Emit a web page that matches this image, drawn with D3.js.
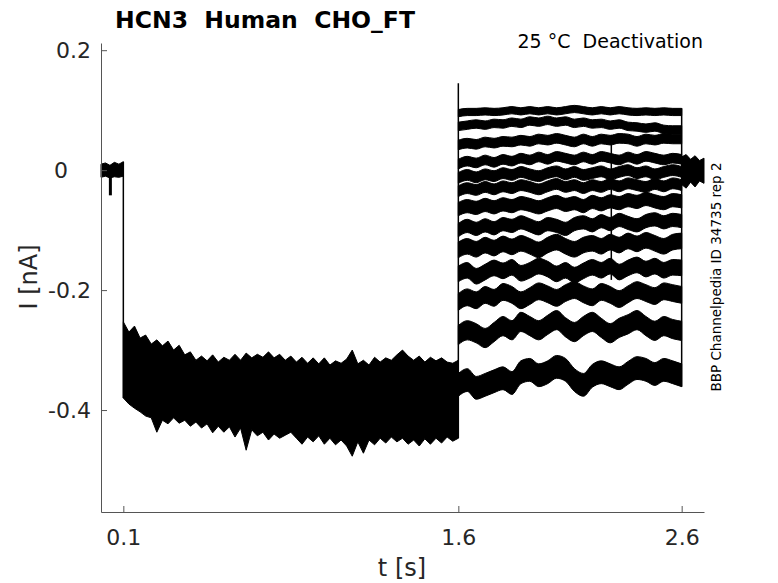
<!DOCTYPE html>
<html>
<head>
<meta charset="utf-8">
<script src="https://cdn.jsdelivr.net/npm/d3@7"></script>
<style>
  body { margin: 0; background: #fff; }
  svg { font-family: "DejaVu Sans", sans-serif; }
  text { white-space: pre; }
</style>
</head>
<body>
<div id="chart"></div>
<script>
// time axis ticks and current axis ticks
const xTicks = [0.1, 1.6, 2.6];
const yTicks = [-0.4, -0.2, 0, 0.2];

// pre-pulse holding (0 - 0.1 s)
const preT  = [0, 0.02, 0.04, 0.06, 0.08, 0.1];
const preHi = [0.010, 0.012, 0.008, 0.013, 0.010, 0.014];
const preLo = [-0.012, -0.010, -0.013, -0.011, -0.012, -0.010];
const dipT = 0.042, dipV = -0.042;

// activation step (0.1 - 1.6 s), all sweeps overlap -> envelope
const holdT = [0.100,0.125,0.150,0.175,0.200,0.225,0.250,0.275,0.300,0.325,0.350,0.375,0.400,0.425,0.450,0.475,
  0.500,0.525,0.550,0.575,0.600,0.625,0.650,0.675,0.700,0.725,0.750,0.775,0.800,0.825,0.850,0.875,0.900,0.925,
  0.950,0.975,1.000,1.025,1.050,1.075,1.100,1.125,1.150,1.175,1.200,1.225,1.250,1.275,1.300,1.325,1.350,1.375,
  1.400,1.425,1.450,1.475,1.500,1.525,1.550,1.575,1.600];
const holdHi = [-0.253,-0.270,-0.260,-0.280,-0.275,-0.290,-0.283,-0.293,-0.285,-0.300,-0.292,-0.308,-0.303,-0.317,
  -0.310,-0.318,-0.308,-0.320,-0.312,-0.317,-0.307,-0.317,-0.305,-0.313,-0.307,-0.312,-0.303,-0.313,-0.307,-0.317,
  -0.310,-0.320,-0.312,-0.322,-0.313,-0.323,-0.313,-0.325,-0.318,-0.322,-0.315,-0.300,-0.323,-0.317,-0.325,-0.312,
  -0.320,-0.313,-0.317,-0.308,-0.300,-0.310,-0.317,-0.310,-0.320,-0.312,-0.318,-0.313,-0.320,-0.322,-0.317];
const holdLo = [-0.380,-0.390,-0.397,-0.403,-0.410,-0.413,-0.437,-0.417,-0.423,-0.413,-0.422,-0.417,-0.427,-0.420,
  -0.430,-0.423,-0.438,-0.427,-0.437,-0.428,-0.445,-0.430,-0.467,-0.433,-0.443,-0.437,-0.450,-0.440,-0.447,-0.442,
  -0.437,-0.447,-0.457,-0.445,-0.453,-0.443,-0.457,-0.447,-0.458,-0.450,-0.460,-0.477,-0.453,-0.472,-0.450,-0.458,
  -0.447,-0.455,-0.445,-0.453,-0.447,-0.457,-0.450,-0.460,-0.448,-0.457,-0.447,-0.455,-0.445,-0.452,-0.447];

// deactivation steps (1.6 - 2.6 s), one sweep per test potential
const testT = [1.60,1.64,1.68,1.72,1.76,1.80,1.84,1.88,1.92,1.96,2.00,2.04,2.08,2.12,2.16,2.20,2.24,2.28,2.32,
  2.36,2.40,2.44,2.48,2.52,2.56,2.60];
const step1 = [0.095,0.097,0.097,0.098,0.097,0.098,0.100,0.098,0.100,0.098,0.100,0.098,0.100,0.102,0.100,0.098,0.100,0.098,0.100,0.098,0.097,0.098,0.097,0.098,0.097,0.097];
const step2 = [0.073,0.075,0.077,0.075,0.078,0.077,0.080,0.078,0.082,0.080,0.083,0.080,0.082,0.078,0.080,0.077,0.078,0.075,0.077,0.073,0.072,0.070,0.072,0.068,0.067,0.067];
const step3 = [0.042,0.045,0.043,0.047,0.045,0.048,0.047,0.050,0.048,0.052,0.050,0.053,0.050,0.047,0.052,0.048,0.052,0.050,0.053,0.052,0.048,0.052,0.050,0.053,0.052,0.052];
const step4 = [0.010,0.015,0.012,0.017,0.013,0.018,0.015,0.020,0.017,0.022,0.018,0.023,0.020,0.017,0.022,0.018,0.023,0.020,0.017,0.022,0.018,0.023,0.020,0.017,0.020,0.018];
const step5 = [-0.013,-0.008,-0.012,-0.007,-0.010,-0.005,-0.008,-0.003,-0.007,-0.010,-0.005,-0.002,-0.007,-0.003,-0.008,-0.005,-0.002,-0.007,-0.003,0.000,-0.005,-0.002,-0.007,-0.003,0.000,-0.003];
const step6 = [-0.035,-0.030,-0.033,-0.028,-0.032,-0.027,-0.030,-0.025,-0.028,-0.032,-0.027,-0.023,-0.028,-0.025,-0.030,-0.025,-0.028,-0.023,-0.027,-0.022,-0.025,-0.028,-0.023,-0.027,-0.022,-0.025];
const step7 = [-0.065,-0.060,-0.063,-0.058,-0.062,-0.057,-0.060,-0.055,-0.058,-0.062,-0.057,-0.053,-0.058,-0.055,-0.060,-0.053,-0.057,-0.052,-0.055,-0.050,-0.053,-0.048,-0.052,-0.055,-0.050,-0.052];
const step8 = [-0.100,-0.093,-0.098,-0.092,-0.097,-0.090,-0.093,-0.087,-0.092,-0.097,-0.090,-0.093,-0.098,-0.090,-0.087,-0.092,-0.085,-0.090,-0.083,-0.088,-0.092,-0.085,-0.082,-0.087,-0.083,-0.085];
const step9 = [-0.133,-0.127,-0.132,-0.125,-0.130,-0.123,-0.128,-0.122,-0.127,-0.133,-0.125,-0.120,-0.127,-0.132,-0.125,-0.122,-0.127,-0.120,-0.125,-0.118,-0.123,-0.117,-0.122,-0.127,-0.120,-0.118];
const step10 = [-0.173,-0.167,-0.177,-0.170,-0.163,-0.168,-0.162,-0.172,-0.167,-0.160,-0.165,-0.173,-0.167,-0.175,-0.168,-0.162,-0.167,-0.160,-0.170,-0.163,-0.158,-0.165,-0.160,-0.167,-0.162,-0.163];
const step11 = [-0.220,-0.212,-0.217,-0.208,-0.213,-0.203,-0.208,-0.217,-0.210,-0.202,-0.207,-0.213,-0.205,-0.200,-0.207,-0.212,-0.203,-0.208,-0.215,-0.207,-0.200,-0.205,-0.210,-0.202,-0.205,-0.208];
const step12 = [-0.275,-0.267,-0.272,-0.280,-0.270,-0.260,-0.267,-0.253,-0.260,-0.267,-0.258,-0.250,-0.262,-0.270,-0.260,-0.253,-0.263,-0.272,-0.263,-0.257,-0.250,-0.260,-0.268,-0.260,-0.265,-0.268];
const step13 = [-0.358,-0.350,-0.363,-0.358,-0.352,-0.347,-0.355,-0.337,-0.333,-0.342,-0.337,-0.328,-0.333,-0.350,-0.358,-0.343,-0.337,-0.342,-0.347,-0.338,-0.330,-0.333,-0.340,-0.333,-0.337,-0.342];
// half-width of the noise band of each sweep
const testNoise = [0.006,0.007,0.008,0.008,0.009,0.009,0.011,0.011,0.013,0.013,0.014,0.016,0.019];

// capacitive spike at 1.6 s and artifact in one sweep
const spikePeak = 0.145;
const artifactT = 2.285, artifactHi = 0.058, artifactLo = -0.183;

// back to holding (2.6 - 2.7 s)
const postT  = [2.60, 2.62, 2.64, 2.66, 2.68, 2.70];
const postHi = [0.022, 0.026, 0.018, 0.024, 0.016, 0.020];
const postLo = [-0.024, -0.030, -0.020, -0.028, -0.018, -0.022];

const testTraces = [step1, step2, step3, step4, step5, step6, step7, step8, step9, step10, step11, step12, step13];

const width = 778, height = 583;
const margin = { top: 43, right: 74, bottom: 71, left: 101 };

const svg = d3.select("#chart").append("svg")
    .attr("width", width)
    .attr("height", height);

const x = d3.scaleLinear().domain([0, 2.7]).range([margin.left, width - margin.right]);
const y = d3.scaleLinear().domain([-0.57, 0.212]).range([height - margin.bottom, margin.top]);

const plot = svg.append("g");

// envelope bands
function band(ts, hi, lo) {
    return d3.area()
        .x((d, i) => x(ts[i]))
        .y0((d, i) => y(lo[i]))
        .y1((d, i) => y(hi[i]))(ts);
}

function vline(t, a, b) {
    plot.append("line")
        .attr("x1", x(t)).attr("x2", x(t))
        .attr("y1", y(a)).attr("y2", y(b))
        .attr("stroke", "#000")
        .attr("stroke-width", 1.5);
}

plot.append("path").attr("d", band(preT, preHi, preLo))
    .attr("fill", "#000").attr("stroke", "#000").attr("stroke-width", 1);
plot.append("line")
    .attr("x1", x(dipT)).attr("x2", x(dipT))
    .attr("y1", y(0)).attr("y2", y(dipV))
    .attr("stroke", "#000").attr("stroke-width", 3);

vline(0.1, d3.max(preHi), holdLo[0]);

plot.append("path").attr("d", band(holdT, holdHi, holdLo))
    .attr("fill", "#000").attr("stroke", "#000").attr("stroke-width", 1);

vline(1.6, holdLo[holdLo.length - 1], spikePeak);

testTraces.forEach((tr, k) => {
    const n = testNoise[k];
    const area = d3.area()
        .curve(d3.curveMonotoneX)
        .x((d, i) => x(testT[i]))
        .y0(d => y(d - n))
        .y1(d => y(d + n));
    plot.append("path")
        .attr("d", area(tr))
        .attr("fill", "#000")
        .attr("stroke", "#000")
        .attr("stroke-width", 1);
});

vline(2.6, step13[step13.length - 1] - testNoise[12], step1[step1.length - 1] + testNoise[0]);
vline(artifactT, artifactHi, artifactLo);

plot.append("path").attr("d", band(postT, postHi, postLo))
    .attr("fill", "#000").attr("stroke", "#000").attr("stroke-width", 1);

// axes
const axisColor = "#555";
const textColor = "#262626";

const yAxis = svg.append("g")
    .attr("transform", `translate(${margin.left},0)`)
    .call(d3.axisLeft(y).tickValues(yTicks).tickFormat(d => String(d))
        .tickSize(-6).tickSizeOuter(0).tickPadding(10));

const xAxis = svg.append("g")
    .attr("transform", `translate(0,${height - margin.bottom})`)
    .call(d3.axisBottom(x).tickValues(xTicks).tickFormat(d => String(d))
        .tickSize(-6).tickSizeOuter(0).tickPadding(17));

[yAxis, xAxis].forEach(a => {
    a.select(".domain").attr("stroke", axisColor);
    a.selectAll(".tick line").attr("stroke", axisColor);
    a.selectAll(".tick text")
        .attr("fill", textColor)
        .style("font-size", "22px")
        .style("font-family", "'DejaVu Sans', sans-serif");
});
// the zero label sits a bit further left in the original
yAxis.selectAll(".tick text").filter(d => d === 0).attr("x", -33);

// labels
svg.append("text")
    .attr("x", 265).attr("y", 28)
    .attr("text-anchor", "middle")
    .style("font-size", "23.5px").style("font-weight", "bold")
    .attr("fill", "#000")
    .text("HCN3  Human  CHO_FT");

svg.append("text")
    .attr("x", 703).attr("y", 48)
    .attr("text-anchor", "end")
    .style("font-size", "19px")
    .attr("fill", "#000")
    .text("25 °C  Deactivation");

svg.append("text")
    .attr("transform", "translate(716,277) rotate(-90)")
    .attr("text-anchor", "middle")
    .attr("dominant-baseline", "central")
    .style("font-size", "13.5px")
    .attr("fill", "#000")
    .text("BBP Channelpedia ID 34735 rep 2");

svg.append("text")
    .attr("transform", "translate(29,277) rotate(-90)")
    .attr("text-anchor", "middle")
    .attr("dominant-baseline", "central")
    .style("font-size", "24px")
    .attr("fill", textColor)
    .text("I [nA]");

svg.append("text")
    .attr("x", 402).attr("y", 576)
    .attr("text-anchor", "middle")
    .style("font-size", "24px")
    .attr("fill", textColor)
    .text("t [s]");
</script>
</body>
</html>
